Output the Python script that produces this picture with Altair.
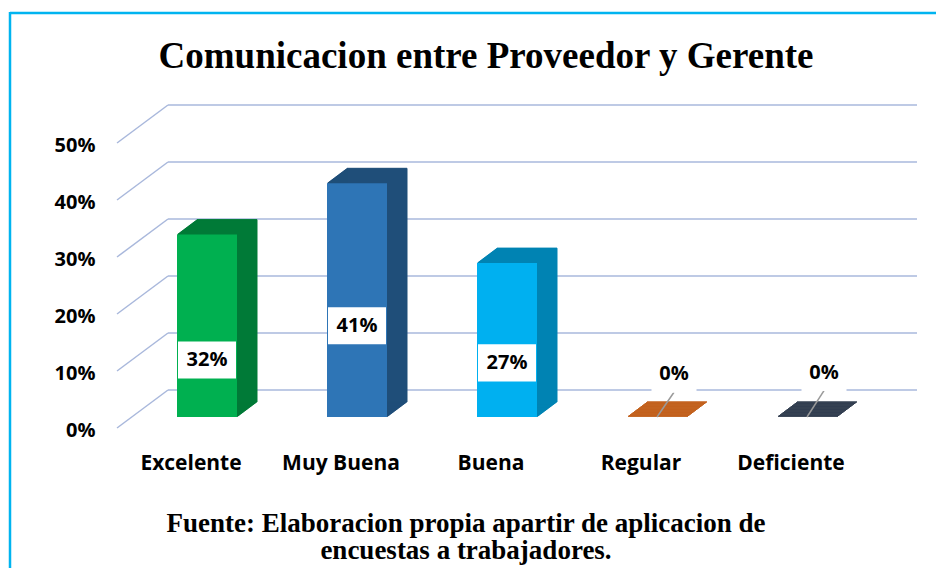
import altair as alt
import pandas as pd

# ---- data ----
categories = ["Excelente", "Muy Buena", "Buena", "Regular", "Deficiente"]
values = [0.32, 0.41, 0.27, 0.0, 0.0]
value_labels = ["32%", "41%", "27%", "0%", "0%"]
label_at = [0.10, 0.16, 0.095, 0.075, 0.078]   # where Excel put each data label
front_colors = ["#00b050", "#2e75b6", "#00b0f0", "#ed7d31", "#44546a"]
side_colors = ["#007a37", "#1f4e79", "#0083b3", "#c2611d", "#333f50"]
tick_values = [0.0, 0.1, 0.2, 0.3, 0.4, 0.5]
title_text = "Comunicacion entre Proveedor y Gerente"
source_text = "Fuente: Elaboracion propia apartir de aplicacion de\nencuestas a trabajadores."

df = pd.DataFrame({"cat": categories, "val": values, "lab": value_labels,
                   "label_at": label_at, "base": [0.0] * len(categories),
                   "front_c": front_colors, "side_c": side_colors})
grid_df = pd.DataFrame({"v": tick_values})

SANS = "Open Sans"
SERIF = "Liberation Serif"

x_enc = alt.X("cat:N", sort=categories, title=None,
              scale=alt.Scale(paddingInner=0.6, paddingOuter=0.4),
              axis=alt.Axis(labelFont=SANS, labelFontSize=21, labelFontWeight="bold",
                            labelColor="#000000", labelAngle=0, labelOffset=-16,
                            labelPadding=46, labelBaseline="middle", ticks=False,
                            tickSize=0, domain=False, grid=False))
y_axis = alt.Axis(format="%", values=tick_values, labelFont=SANS, labelFontSize=20,
                  labelFontWeight="bold", labelColor="#000000", labelOffset=13,
                  labelPadding=22, ticks=False, tickSize=0, domain=False, grid=False)
y_scale = alt.Scale(domain=[0, 0.5], nice=False, zero=True)

def y_of(field):
    return alt.Y(field, type="quantitative", scale=y_scale, axis=y_axis, title=None)

GRID = "#a9b8dc"

# back-wall gridlines
grid_back = alt.Chart(grid_df).mark_rule(color=GRID, strokeWidth=1.5, yOffset=-27).encode(
    y=alt.Y("v:Q", scale=y_scale, axis=y_axis, title=None),
    x=alt.value(51), x2=alt.value(800))
# floor/side diagonals
grid_diag = alt.Chart(grid_df).mark_rule(color=GRID, strokeWidth=1.5,
                                         yOffset=11, y2Offset=-27).encode(
    y=alt.Y("v:Q", scale=y_scale, axis=y_axis, title=None), y2="v:Q",
    x=alt.value(0), x2=alt.value(51))

base = alt.Chart(df)

# extruded depth of the bars
depth_layers = []
DEPTH = 20
for i in range(1, DEPTH + 1):
    depth_layers.append(
        base.mark_bar(xOffset=i, yOffset=-0.75 * i, y2Offset=-0.75 * i,
                      strokeWidth=1, strokeOpacity=1).encode(
            x=x_enc, y=y_of("val"), y2="base:Q",
            fill=alt.Fill("side_c:N", scale=None),
            stroke=alt.Stroke("side_c:N", scale=None))
    )

front = base.transform_filter("datum.val > 0").mark_bar().encode(
    x=x_enc, y=y_of("val"), y2="base:Q", fill=alt.Fill("front_c:N", scale=None))

box_path = "M-1,-0.64L1,-0.64L1,0.64L-1,0.64Z"
boxes = base.transform_filter("datum.val > 0").mark_point(
    shape=box_path, size=58 * 58, filled=True, fill="white", opacity=1,
    strokeWidth=0).encode(x=x_enc, y=y_of("label_at"))
texts = base.transform_filter("datum.val > 0").mark_text(
    font=SANS, fontSize=20, fontWeight="bold", color="#000000").encode(
    x=x_enc, y=y_of("label_at"), text="lab:N")

zero_box_path = "M-1,-0.82L1,-0.82L1,0.82L-1,0.82Z"
leaders = base.transform_filter("datum.val == 0").mark_rule(
    color="#9a9a9a", strokeWidth=1.5, xOffset=17, yOffset=18, x2Offset=0).encode(
    x=x_enc, x2="cat:N", y=y_of("label_at"), y2="base:Q")
zero_boxes = base.transform_filter("datum.val == 0").mark_point(
    shape=zero_box_path, size=45 * 45, filled=True, fill="white", opacity=1,
    strokeWidth=0, xOffset=17).encode(x=x_enc, y=y_of("label_at"))
zero_texts = base.transform_filter("datum.val == 0").mark_text(
    font=SANS, fontSize=20, fontWeight="bold", color="#000000", xOffset=17).encode(
    x=x_enc, y=y_of("label_at"), text="lab:N")

title = alt.Chart(pd.DataFrame({"t": [title_text]})).mark_text(
    font=SERIF, fontSize=37, fontWeight="bold", color="#000000",
    align="center", baseline="alphabetic").encode(
    text="t:N", x=alt.value(369), y=alt.value(-64))
source = alt.Chart(pd.DataFrame({"t": [source_text]})).mark_text(
    font=SERIF, fontSize=27, fontWeight="bold", color="#000000",
    align="center", baseline="alphabetic", lineBreak="\n", lineHeight=27).encode(
    text="t:N", x=alt.value(349), y=alt.value(400))

BORDER = "#00b4f0"
border_top = alt.Chart(pd.DataFrame({"t": [0]})).mark_rule(
    color=BORDER, strokeWidth=2.5).encode(x=alt.value(-107), x2=alt.value(830),
                                          y=alt.value(-119))
border_left = alt.Chart(pd.DataFrame({"t": [0]})).mark_rule(
    color=BORDER, strokeWidth=2.5).encode(x=alt.value(-107), y=alt.value(-120),
                                          y2=alt.value(450))

chart = alt.layer(
    border_top, border_left, grid_back, grid_diag, *depth_layers, front,
    leaders, boxes, texts, zero_boxes, zero_texts, title, source
).properties(
    width=780, height=285,
    autosize=alt.AutoSizeParams(type="none"),
    padding={"left": 109, "top": 124, "right": 39, "bottom": 151},
    background="white",
).configure_view(stroke=None)

chart.save("out.html", embed_options={"renderer": "svg", "actions": False})
